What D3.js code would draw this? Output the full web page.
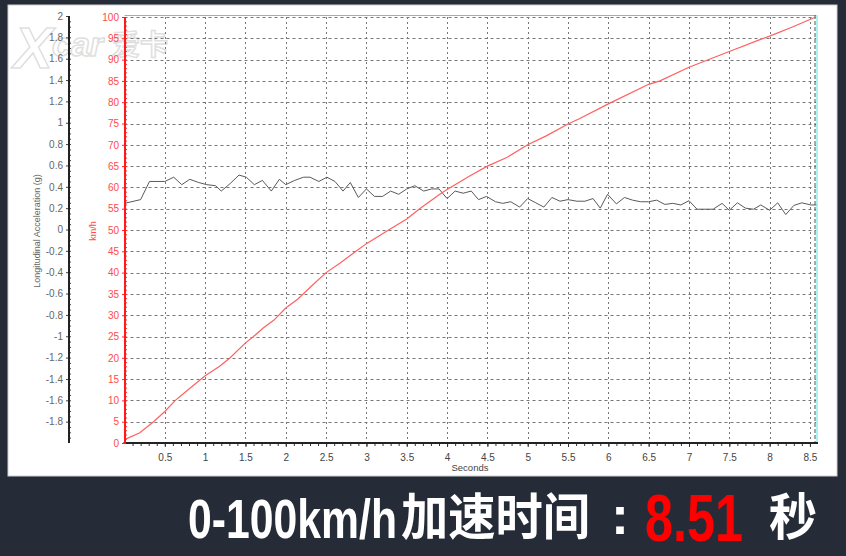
<!DOCTYPE html>
<html><head><meta charset="utf-8">
<script src="https://cdn.jsdelivr.net/npm/d3@7"></script>
<style>html,body{margin:0;padding:0;background:#252c37;}svg{display:block;}</style>
</head><body>
<svg id="c" width="846" height="556"></svg>
<script>
// ---- data ----
const accelTime = [0,0.2,0.31,0.5,0.61,0.71,0.81,0.92,1.02,1.13,1.2,1.31,1.42,1.51,1.61,1.71,1.82,1.92,2.0,2.11,2.22,2.3,2.41,2.51,2.61,2.71,2.8,2.9,3.0,3.1,3.2,3.3,3.4,3.5,3.6,3.71,3.81,3.9,4.0,4.1,4.2,4.3,4.39,4.49,4.6,4.69,4.79,4.9,5.0,5.1,5.2,5.3,5.4,5.5,5.61,5.71,5.81,5.9,5.99,6.1,6.2,6.3,6.4,6.5,6.6,6.7,6.8,6.9,7.0,7.1,7.2,7.3,7.41,7.5,7.6,7.7,7.8,7.89,8.0,8.1,8.2,8.3,8.4,8.51,8.58];
const accelValue = [0.245,0.28,0.45,0.45,0.49,0.42,0.47,0.44,0.42,0.41,0.36,0.43,0.51,0.49,0.42,0.46,0.36,0.47,0.42,0.46,0.49,0.49,0.45,0.49,0.45,0.36,0.44,0.30,0.38,0.31,0.31,0.36,0.33,0.38,0.41,0.36,0.38,0.38,0.29,0.36,0.34,0.36,0.28,0.31,0.26,0.245,0.26,0.21,0.29,0.25,0.21,0.30,0.265,0.28,0.265,0.265,0.29,0.20,0.33,0.24,0.30,0.275,0.26,0.26,0.275,0.235,0.245,0.23,0.27,0.19,0.19,0.19,0.245,0.18,0.25,0.20,0.19,0.23,0.18,0.25,0.14,0.225,0.25,0.23,0.23];
const speedTime = [0,0.19,0.36,0.5,0.63,0.77,1.0,1.18,1.31,1.5,1.6,1.72,1.85,2.0,2.15,2.34,2.5,2.67,2.87,3.0,3.25,3.5,3.66,3.91,4.0,4.28,4.5,4.74,5.0,5.23,5.5,5.64,6.0,6.5,6.64,7.0,7.5,7.88,8.0,8.29,8.57];
const speedValue = [0.8,2.4,5,7.4,10,12.2,15.8,18,20,23.5,25,27,28.8,31.7,33.8,37.2,40,42.2,45,46.8,49.7,52.6,55,58.4,59.5,62.7,65,67,70,72.1,74.9,76.1,79.6,84.2,85,88.2,91.9,94.7,95.5,97.7,100];
const timeTicks = [0.5,1,1.5,2,2.5,3,3.5,4,4.5,5,5.5,6,6.5,7,7.5,8,8.5];
const speedTicks = [0,5,10,15,20,25,30,35,40,45,50,55,60,65,70,75,80,85,90,95,100];
const accelTicks = [-1.8,-1.6,-1.4,-1.2,-1,-0.8,-0.6,-0.4,-0.2,0,0.2,0.4,0.6,0.8,1,1.2,1.4,1.6,1.8,2];
const titleText = "0-100km/h";
const titleCn = "加速时间";
const resultText = "8.51";
const unitText = "秒";

// ---- layout ----
const svg = d3.select("#c");
const L = 124.5, R = 816, T = 17, B = 443;
const x = d3.scaleLinear().domain([0, 8.575]).range([L, R]);
const yS = d3.scaleLinear().domain([0, 100]).range([B, T]);
const yA = d3.scaleLinear().domain([-2, 2]).range([B, 16]);
const font = "'Liberation Sans', Arial, sans-serif";
const fmt = d => String(d);

svg.append("rect").attr("width",846).attr("height",556).attr("fill","#252c37");
svg.append("rect").attr("x",8).attr("y",5).attr("width",829).attr("height",471).attr("fill","#ffffff").attr("stroke","#d0d0d0").attr("stroke-width",1);

// watermark logo
const wm = svg.append("g").attr("opacity",0.85);
wm.append("text").attr("x",14).attr("y",68).attr("font-family",font).attr("font-weight","bold").attr("font-style","italic")
  .attr("font-size",58).attr("fill","#ffffff").attr("stroke","#dadada").attr("stroke-width",1.5).text("X");
wm.append("text").attr("x",52).attr("y",56).attr("font-family",font).attr("font-weight","bold").attr("font-style","italic")
  .attr("font-size",34).attr("fill","#ffffff").attr("stroke","#dadada").attr("stroke-width",1.5).text("car");
wm.append("text").attr("x",112).attr("y",55).attr("font-family","'Noto Sans CJK SC', sans-serif").attr("font-weight","bold")
  .attr("font-size",28).attr("fill","#ffffff").attr("stroke","#dadada").attr("stroke-width",1.5).text("爱卡");

// plot frame top & right
svg.append("line").attr("x1",L).attr("x2",R).attr("y1",15.5).attr("y2",15.5).attr("stroke","#aaaaaa");
// grid
const grid = svg.append("g").attr("stroke","#777").attr("stroke-width",1).attr("stroke-dasharray","3,3");
grid.selectAll("line.h").data(speedTicks.filter(d=>d>0)).join("line")
  .attr("x1",L).attr("x2",R).attr("y1",d=>Math.round(yS(d))+0.5).attr("y2",d=>Math.round(yS(d))+0.5);
grid.selectAll("line.v").data(timeTicks).join("line").attr("stroke-dasharray","2,3")
  .attr("x1",d=>Math.round(x(d))+0.5).attr("x2",d=>Math.round(x(d))+0.5).attr("y1",T).attr("y2",B);
svg.append("line").attr("x1",R-1).attr("x2",R-1).attr("y1",15).attr("y2",B).attr("stroke","#555").attr("stroke-dasharray","4,2");
svg.append("line").attr("x1",R+1).attr("x2",R+1).attr("y1",15).attr("y2",B).attr("stroke","#8ff0f0").attr("stroke-width",1.5);

// acceleration line
const accelData = accelTime.map((t,i)=>[t, accelValue[i]]);
svg.append("path").datum(accelData).attr("fill","none").attr("stroke","#5a5a5a").attr("stroke-width",1)
  .attr("d", d3.line().x(d=>x(d[0])).y(d=>yA(d[1])));
// speed line
const speedData = speedTime.map((t,i)=>[t, speedValue[i]]);
svg.append("path").datum(speedData).attr("fill","none").attr("stroke","#ff6060").attr("stroke-width",1.2)
  .attr("d", d3.line().x(d=>x(d[0])).y(d=>yS(d[1])));

// x axis
const xAxisG = svg.append("g").attr("transform",`translate(0,${B})`);
xAxisG.call(d3.axisBottom(x).tickValues(d3.range(1,86).map(i=>i/10)).tickSize(3).tickFormat(""))
  .call(g=>g.select(".domain").remove()).selectAll("line").attr("stroke","#333");
const xMajor = svg.append("g").attr("transform",`translate(0,${B})`);
xMajor.call(d3.axisBottom(x).tickValues(timeTicks).tickSize(4).tickPadding(7).tickFormat(fmt))
  .call(g=>g.select(".domain").remove());
xMajor.selectAll("line").attr("stroke","#333");
xMajor.selectAll("text").attr("font-family",font).attr("font-size",10).attr("fill","#444");
svg.append("line").attr("x1",L-1).attr("x2",R+2).attr("y1",B).attr("y2",B).attr("stroke","#222").attr("stroke-width",2);
svg.append("text").attr("x",470).attr("y",471).attr("text-anchor","middle").attr("font-family",font).attr("font-size",9.5).attr("fill","#444").text("Seconds");

// acceleration axis
const aX = 69;
const aMinor = svg.append("g").attr("transform",`translate(${aX},0)`);
aMinor.call(d3.axisRight(yA).tickValues(d3.range(-39,40).map(i=>i/20)).tickSize(2).tickFormat(""))
  .call(g=>g.select(".domain").remove()).selectAll("line").attr("stroke","#444");
const aAxis = svg.append("g").attr("transform",`translate(${aX},0)`);
aAxis.call(d3.axisLeft(yA).tickValues(accelTicks).tickSize(3).tickPadding(3).tickFormat(fmt))
  .call(g=>g.select(".domain").remove());
aAxis.selectAll("line").attr("stroke","#444");
aAxis.selectAll("text").attr("font-family",font).attr("font-size",10).attr("fill","#666");
svg.append("line").attr("x1",aX).attr("x2",aX).attr("y1",16).attr("y2",B).attr("stroke","#222").attr("stroke-width",2);
svg.append("text").attr("transform","translate(40,231) rotate(-90)").attr("text-anchor","middle")
  .attr("font-family",font).attr("font-size",9).attr("fill","#666").text("Longitudinal Acceleration (g)");

// speed axis
const sX = 125;
const sMinor = svg.append("g").attr("transform",`translate(${sX},0)`);
sMinor.call(d3.axisRight(yS).tickValues(d3.range(1,100)).tickSize(2).tickFormat(""))
  .call(g=>g.select(".domain").remove()).selectAll("line").attr("stroke","#ff3030");
const sAxis = svg.append("g").attr("transform",`translate(${sX},0)`);
sAxis.call(d3.axisLeft(yS).tickValues(speedTicks).tickSize(3).tickPadding(3).tickFormat(fmt))
  .call(g=>g.select(".domain").remove());
sAxis.selectAll("line").attr("stroke","#ff2020");
sAxis.selectAll("text").attr("font-family",font).attr("font-size",10).attr("fill","#ff4a4a");
svg.append("line").attr("x1",sX).attr("x2",sX).attr("y1",T).attr("y2",B+1).attr("stroke","#ff1a1a").attr("stroke-width",2);
svg.append("text").attr("transform","translate(96,231) rotate(-90)").attr("text-anchor","middle")
  .attr("font-family",font).attr("font-size",9).attr("fill","#ff4a4a").text("km/h");

// bottom banner
const cjk = "'Noto Sans CJK SC', sans-serif";
svg.append("text").attr("x",188).attr("y",538).attr("font-family",font).attr("font-weight","bold").attr("font-size",55)
  .attr("fill","#ffffff").attr("textLength",209).attr("lengthAdjust","spacingAndGlyphs").text(titleText);
svg.append("text").attr("x",401).attr("y",535).attr("font-family",cjk).attr("font-weight","bold").attr("font-size",50)
  .attr("fill","#ffffff").attr("textLength",189).attr("lengthAdjust","spacingAndGlyphs").text(titleCn);
svg.append("text").attr("x",620).attr("y",534).attr("text-anchor","middle").attr("font-family",font).attr("font-weight","bold").attr("font-size",54)
  .attr("fill","#ffffff").text(":");
svg.append("text").attr("x",645).attr("y",541).attr("font-family",font).attr("font-weight","bold").attr("font-size",67)
  .attr("fill","#ff0000").attr("textLength",98).attr("lengthAdjust","spacingAndGlyphs").text(resultText);
svg.append("text").attr("x",769).attr("y",535).attr("font-family",cjk).attr("font-weight","bold").attr("font-size",50)
  .attr("fill","#ffffff").attr("textLength",48).attr("lengthAdjust","spacingAndGlyphs").text(unitText);
</script>
</body></html>
